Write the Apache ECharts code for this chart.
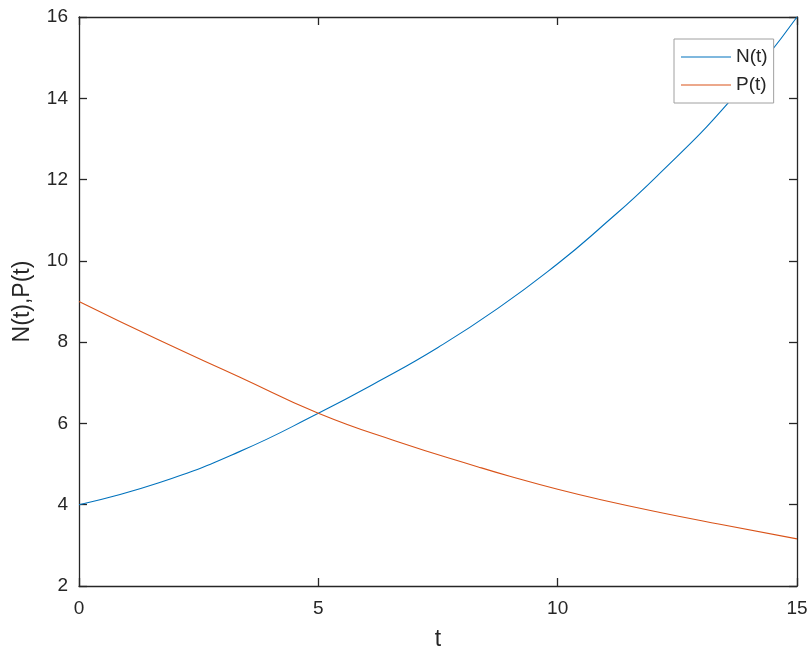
<!DOCTYPE html>
<html lang="en">
<head>
    <meta charset="UTF-8">
    <title>N(t), P(t)</title>
    <script src="https://cdn.jsdelivr.net/npm/echarts@6/dist/echarts.min.js"></script>
    <style>
        html, body { margin: 0; padding: 0; background: #fff; }
        #chart { width: 811px; height: 653px; }
    </style>
</head>
<body>
    <div id="chart"></div>
    <script>
        // values: [t, value]
        const nPoints = [
            [0, 4.00], [1.67, 4.54], [3.34, 5.30], [5.0, 6.25], [6.25, 7.03],
            [7.5, 7.87], [8.75, 8.83], [10.0, 9.93], [10.84, 10.76],
            [12.07, 12.08], [13.61, 13.95], [15.0, 16.0]
        ];
        const pPoints = [
            [0, 9.00], [1.67, 8.05], [3.34, 7.15], [5.0, 6.25], [6.66, 5.55],
            [8.34, 4.93], [9.0, 4.70], [10.0, 4.38], [10.88, 4.13],
            [12.14, 3.81], [13.39, 3.52], [15.0, 3.16]
        ];
        const seriesNames = ['N(t)', 'P(t)'];
        const seriesColors = ['#0072BD', '#D95319'];

        const axisColor = '#262626';
        const font = 'Liberation Sans, Arial, sans-serif';

        const chart = echarts.init(document.getElementById('chart'));

        // shared look for the boxed axes (ticks inside on all four sides)
        function boxAxis(extra) {
            return Object.assign({
                type: 'value',
                axisLine: { show: true, onZero: false, lineStyle: { color: axisColor, width: 1.3 } },
                axisTick: { show: true, inside: true, length: 8, lineStyle: { color: axisColor, width: 1.3 } },
                splitLine: { show: false }
            }, extra);
        }

        chart.setOption({
            animation: false,
            grid: { left: 79, right: 14, top: 17, bottom: 67, outerBoundsMode: 'none' },
            legend: {
                data: seriesNames,
                orient: 'vertical',
                left: 674,
                top: 39,
                padding: [8, 6, 8, 7],
                icon: 'path://M0,0 L50,0 L50,1.2 L0,1.2 Z',
                itemWidth: 50,
                itemHeight: 14,
                itemGap: 8,
                backgroundColor: '#fff',
                borderColor: '#a0a0a0',
                borderWidth: 1,
                textStyle: { fontFamily: font, fontSize: 19, color: axisColor, lineHeight: 20 }
            },
            xAxis: [
                boxAxis({
                    min: 0, max: 15, interval: 5,
                    name: 't',
                    nameLocation: 'middle',
                    nameGap: 42,
                    nameTextStyle: { fontFamily: font, fontSize: 23, color: axisColor },
                    axisLabel: { fontFamily: font, fontSize: 19, color: axisColor, margin: 13 }
                }),
                boxAxis({
                    position: 'top',
                    min: 0, max: 15, interval: 5,
                    axisLabel: { show: false }
                })
            ],
            yAxis: [
                boxAxis({
                    min: 2, max: 16, interval: 2,
                    name: 'N(t),P(t)',
                    nameLocation: 'middle',
                    nameGap: 45,
                    nameTextStyle: { fontFamily: font, fontSize: 23, color: axisColor },
                    axisLabel: { fontFamily: font, fontSize: 19, color: axisColor, margin: 11 }
                }),
                boxAxis({
                    position: 'right',
                    min: 2, max: 16, interval: 2,
                    axisLabel: { show: false }
                })
            ],
            series: [
                {
                    name: seriesNames[0],
                    type: 'line',
                    data: nPoints,
                    smooth: 0.5,
                    symbol: 'none',
                    lineStyle: { color: seriesColors[0], width: 1.1 },
                    itemStyle: { color: seriesColors[0] }
                },
                {
                    name: seriesNames[1],
                    type: 'line',
                    data: pPoints,
                    smooth: 0.5,
                    symbol: 'none',
                    lineStyle: { color: seriesColors[1], width: 1.1 },
                    itemStyle: { color: seriesColors[1] }
                }
            ]
        });
    </script>
</body>
</html>
